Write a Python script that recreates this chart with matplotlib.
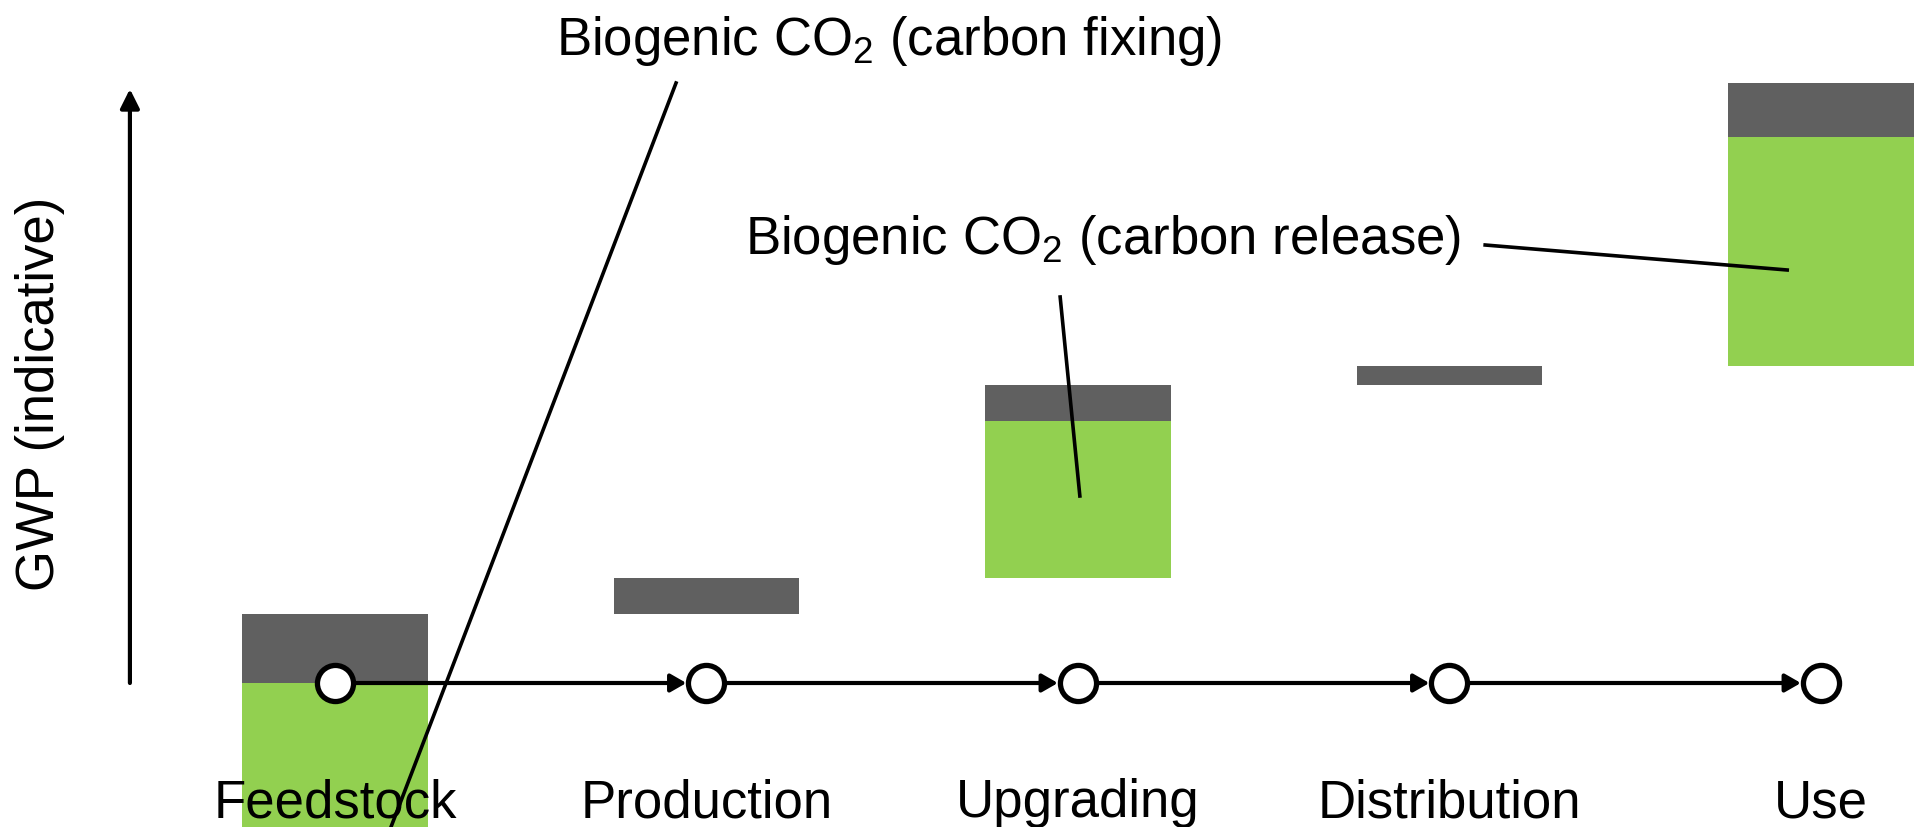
import matplotlib
matplotlib.use("Agg")
import matplotlib.pyplot as plt

plt.rcParams['font.family'] = ['Liberation Sans', 'DejaVu Sans']
plt.rcParams['mathtext.fontset'] = 'custom'
plt.rcParams['mathtext.rm'] = 'Liberation Sans'

# life-cycle stages and indicative GWP contributions
stages = ['Feedstock', 'Production', 'Upgrading', 'Distribution', 'Use']
fossil = [6.9, 3.6, 3.6, 1.9, 5.4]          # grey: fossil / process emissions
biogenic = [-38.6, 0.0, 15.7, 0.0, 22.9]    # green: biogenic CO2 (fixing < 0, release > 0)

GREY = '#606060'
GREEN = '#92D050'
FS = 38


def main():
    fig = plt.figure(figsize=(19.17, 8.27), dpi=100)
    ax = fig.add_axes([0, 0, 1, 1])
    ax.set_xlim(-0.9017, 4.2584)
    ax.set_ylim(-14.4, 68.3)
    ax.axis('off')

    width = 0.5
    running = 0.0
    for i, (f, b) in enumerate(zip(fossil, biogenic)):
        if b < 0:
            # carbon fixing hangs below the baseline, not part of the running total
            ax.bar(i, b, width=width, bottom=0, color=GREEN, zorder=1)
        elif b > 0:
            ax.bar(i, b, width=width, bottom=running, color=GREEN, zorder=1)
            running += b
        ax.bar(i, f, width=width, bottom=running, color=GREY, zorder=1)
        running += f

    # process chain along the baseline
    for i in range(len(stages) - 1):
        ax.annotate('', xy=(i + 1, 0), xytext=(i, 0),
                    arrowprops=dict(arrowstyle='-|>,head_length=0.47,head_width=0.27',
                                    mutation_scale=20, lw=3.0, color='black',
                                    shrinkA=0, shrinkB=14.5),
                    zorder=3)
    ax.plot(range(len(stages)), [0] * len(stages), 'o', ms=26, mfc='white',
            mec='black', mew=3.8, zorder=4)

    for i, name in enumerate(stages):
        ax.text(i, -13.4, name, ha='center', va='baseline', fontsize=FS, zorder=2)

    # vertical GWP axis
    ax.annotate('', xy=(-0.552, 59.4), xytext=(-0.552, 0),
                arrowprops=dict(arrowstyle='-|>,head_length=0.82,head_width=0.41',
                                mutation_scale=14, lw=3.0, color='black',
                                shrinkA=0, shrinkB=0))
    ax.text(-0.794, 28.9, 'GWP (indicative)', rotation=90, ha='center',
            va='center', fontsize=FS)

    # callouts
    ax.text(1.491, 62.8, r'Biogenic CO$_\mathregular{2}$ (carbon fixing)',
            ha='center', va='baseline', fontsize=FS)
    ax.plot([0.918, 0.093], [60.0, -20.0], color='black', lw=2.6, zorder=5)

    ax.text(2.067, 42.9, r'Biogenic CO$_\mathregular{2}$ (carbon release)',
            ha='center', va='baseline', fontsize=FS)
    ax.plot([1.952, 2.005], [38.6, 18.7], color='black', lw=2.6, zorder=5)
    ax.plot([3.096, 3.909], [43.8, 41.3], color='black', lw=2.6, zorder=5)

    fig.savefig('out.png', dpi=100)


if __name__ == "__main__":
    main()
